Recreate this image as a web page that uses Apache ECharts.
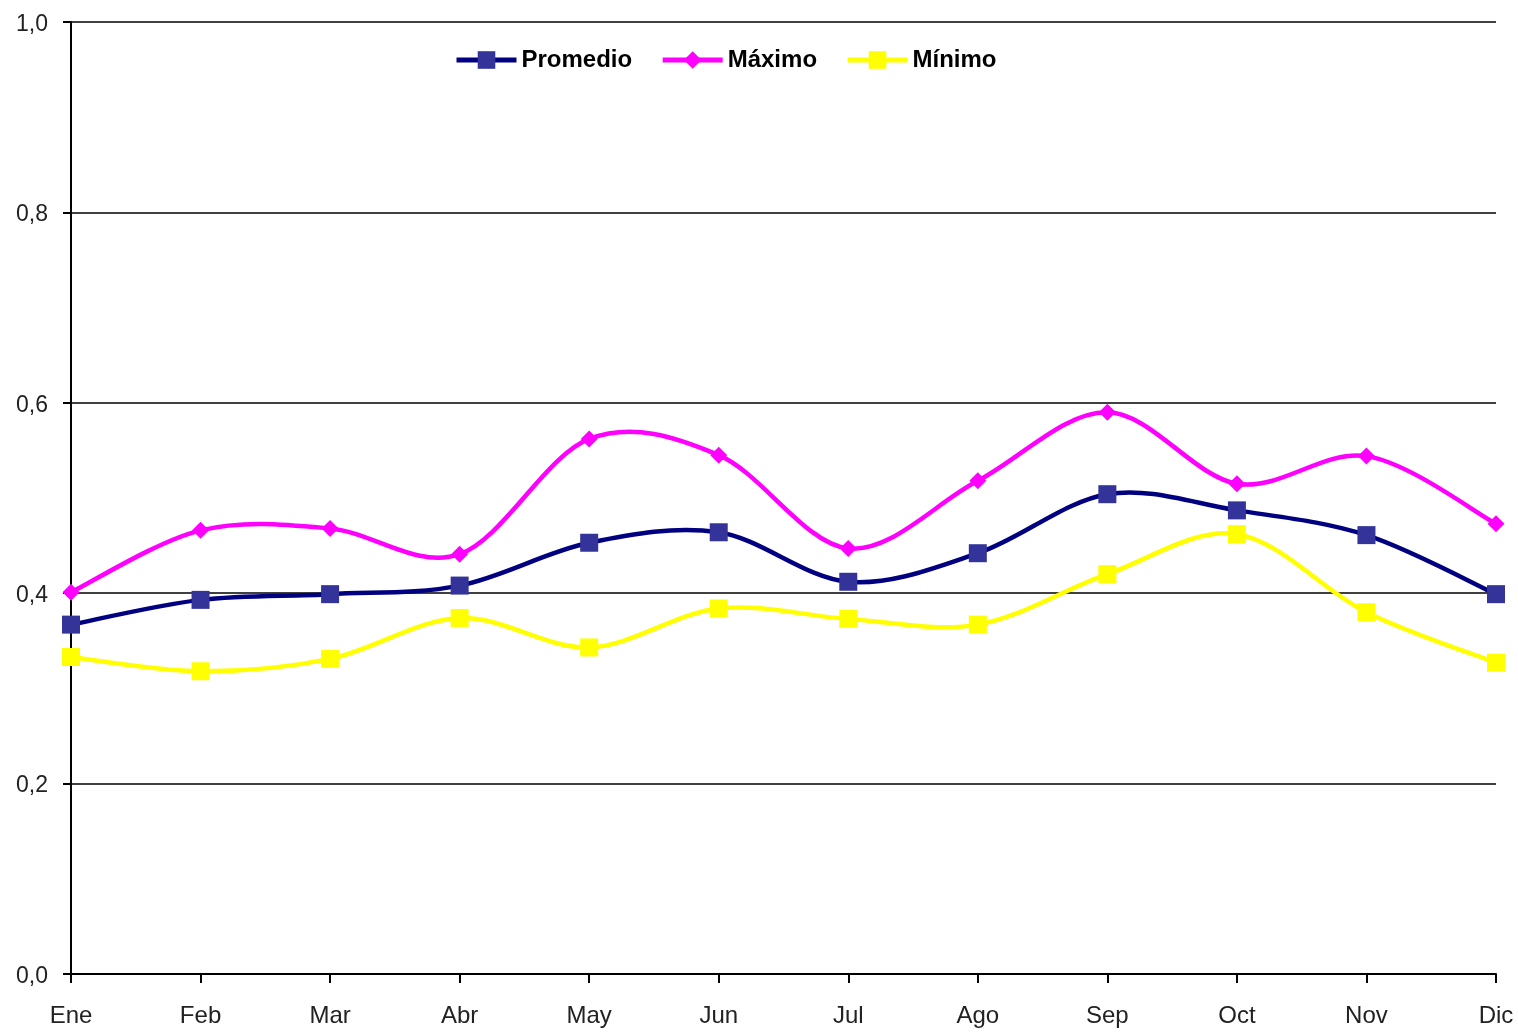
<!DOCTYPE html>
<html>
<head>
<meta charset="utf-8">
<script src="https://cdn.jsdelivr.net/npm/echarts@6/dist/echarts.min.js"></script>
<style>
  html, body { margin: 0; padding: 0; background: #fff; }
  #chart { width: 1518px; height: 1032px; }
</style>
</head>
<body>
<div id="chart"></div>
<script>
// Month labels along the category axis
const months = ['Ene', 'Feb', 'Mar', 'Abr', 'May', 'Jun', 'Jul', 'Ago', 'Sep', 'Oct', 'Nov', 'Dic'];

// Monthly values per series
const promedio = [0.367, 0.393, 0.399, 0.408, 0.453, 0.464, 0.412, 0.442, 0.504, 0.487, 0.461, 0.399];
const maximo   = [0.401, 0.466, 0.468, 0.441, 0.562, 0.545, 0.447, 0.518, 0.590, 0.515, 0.544, 0.473];
const minimo   = [0.333, 0.318, 0.331, 0.374, 0.343, 0.384, 0.373, 0.367, 0.420, 0.462, 0.380, 0.327];

const FONT = 'Liberation Sans, Arial, sans-serif';

// Smoothed curve (cardinal spline, tension 1/6) drawn one bezier segment per month,
// with every point placed through the chart's own coordinate system.
function smoothCurve(name, values, color, width, z) {
  return {
    name: name,
    type: 'custom',
    z: z,
    silent: true,
    data: values.map((v, i) => [i, v]),
    encode: { x: 0, y: 1 },
    renderItem: function (params, api) {
      const i = api.value(0);
      const n = values.length;
      if (i >= n - 1) return null;
      const p = k => {
        const j = Math.max(0, Math.min(n - 1, k));
        return api.coord([j, values[j]]);
      };
      const p0 = p(i - 1), p1 = p(i), p2 = p(i + 1), p3 = p(i + 2);
      return {
        type: 'bezierCurve',
        shape: {
          x1: p1[0], y1: p1[1],
          x2: p2[0], y2: p2[1],
          cpx1: p1[0] + (p2[0] - p0[0]) / 6, cpy1: p1[1] + (p2[1] - p0[1]) / 6,
          cpx2: p2[0] - (p3[0] - p1[0]) / 6, cpy2: p2[1] - (p3[1] - p1[1]) / 6
        },
        style: { stroke: color, lineWidth: width, fill: 'none', lineCap: 'round' }
      };
    }
  };
}

// Marker-only line series (the curve itself is drawn by smoothCurve)
function markers(name, values, symbol, size, color, z) {
  return {
    name: name,
    type: 'line',
    data: values,
    symbol: symbol,
    symbolSize: size,
    showAllSymbol: true,
    lineStyle: { width: 0, opacity: 0 },
    itemStyle: { color: color, borderWidth: 0 },
    z: z
  };
}

const chart = echarts.init(document.getElementById('chart'));

chart.setOption({
  animation: false,
  backgroundColor: '#ffffff',
  legend: {
    left: 454,
    top: 48,
    padding: 0,
    itemGap: 28,
    itemWidth: 60,
    itemHeight: 22,
    textStyle: { fontFamily: FONT, fontWeight: 'bold', fontSize: 24, color: '#000' },
    data: [
      { name: 'Promedio', itemStyle: { color: '#333399' }, lineStyle: { color: '#000080', width: 5, opacity: 1 } },
      { name: 'Máximo', itemStyle: { color: '#ff00ff' }, lineStyle: { color: '#ff00ff', width: 5, opacity: 1 } },
      { name: 'Mínimo', itemStyle: { color: '#ffff00' }, lineStyle: { color: '#ffff00', width: 5, opacity: 1 } }
    ]
  },
  grid: { left: 71, right: 22, top: 22, bottom: 58, containLabel: false },
  xAxis: {
    type: 'category',
    data: months,
    boundaryGap: false,
    axisLine: { lineStyle: { color: '#000', width: 2 } },
    axisTick: { show: true, alignWithLabel: true, length: 9, lineStyle: { color: '#000', width: 2 } },
    axisLabel: { fontFamily: FONT, fontSize: 24, color: '#222', margin: 30, interval: 0 },
    splitLine: { show: false }
  },
  yAxis: {
    type: 'value',
    min: 0,
    max: 1,
    interval: 0.2,
    axisLine: { show: true, lineStyle: { color: '#000', width: 2 } },
    axisTick: { show: true, length: 8, lineStyle: { color: '#000', width: 2 } },
    axisLabel: {
      fontFamily: FONT, fontSize: 23, color: '#222', margin: 23,
      verticalAlign: 'top', lineHeight: 23, padding: [-9, 0, 0, 0],
      formatter: v => v.toFixed(1).replace('.', ',')
    },
    splitLine: { show: true, lineStyle: { color: '#000', width: 1.5 } }
  },
  series: [
    markers('Promedio', promedio, 'rect', 18, '#333399', 6),
    markers('Máximo', maximo, 'diamond', 17, '#ff00ff', 5),
    markers('Mínimo', minimo, 'rect', 18, '#ffff00', 4),
    smoothCurve('Promedio', promedio, '#000080', 4.5, 3),
    smoothCurve('Máximo', maximo, '#ff00ff', 4.5, 2),
    smoothCurve('Mínimo', minimo, '#ffff00', 4.5, 1)
  ]
});
</script>
</body>
</html>
